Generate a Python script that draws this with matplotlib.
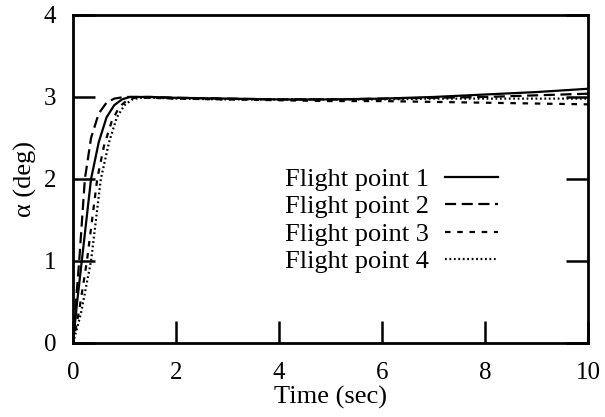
import matplotlib
matplotlib.use("Agg")
import matplotlib.pyplot as plt

# Flight point 1 (solid)
t1 = [0, 0.08, 0.17, 0.35, 0.5, 0.65, 0.8, 0.95, 1.1, 1.5, 2, 3, 4, 5, 6, 7, 8, 9, 10]
fp1 = [0, 0.5, 1.0, 2.0, 2.45, 2.75, 2.9, 2.97, 3.0, 3.0, 2.99, 2.98, 2.97, 2.97, 2.98, 3.0, 3.03, 3.06, 3.1]
# Flight point 2 (dashed)
t2 = [0, 0.05, 0.12, 0.23, 0.35, 0.5, 0.65, 0.8, 1.0, 1.5, 2, 3, 4, 5, 6, 7, 8, 9, 10]
fp2 = [0, 0.45, 1.0, 2.0, 2.5, 2.8, 2.93, 2.98, 3.0, 3.0, 2.99, 2.98, 2.97, 2.97, 2.98, 2.99, 3.0, 3.02, 3.04]
# Flight point 3 (short dashes)
t3 = [0, 0.12, 0.27, 0.47, 0.6, 0.75, 0.9, 1.05, 1.2, 1.5, 2, 3, 4, 5, 6, 7, 8, 9, 10]
fp3 = [0, 0.4, 1.0, 2.0, 2.4, 2.7, 2.88, 2.96, 2.99, 2.99, 2.98, 2.97, 2.96, 2.95, 2.95, 2.94, 2.93, 2.92, 2.91]
# Flight point 4 (dotted)
t4 = [0, 0.15, 0.35, 0.54, 0.7, 0.85, 1.0, 1.15, 1.3, 1.6, 2, 3, 4, 5, 6, 7, 8, 9, 10]
fp4 = [0, 0.35, 1.0, 2.0, 2.45, 2.75, 2.9, 2.97, 2.99, 2.99, 2.98, 2.97, 2.97, 2.97, 2.97, 2.98, 2.98, 2.98, 2.98]

labels = ["Flight point 1", "Flight point 2", "Flight point 3", "Flight point 4"]
xticks = [0, 2, 4, 6, 8, 10]
yticks = [0, 1, 2, 3, 4]

plt.rcParams['font.family'] = ['Liberation Serif', 'DejaVu Serif']
fig = plt.figure(figsize=(6.05, 4.17), dpi=100)
ax = fig.add_axes([0.1207, 0.1775, 0.8512, 0.7866])

styles = ['-', (0, (5, 2.5)), (0, (2.5, 3)), (0, (0.8, 1.2))]
for tt, y, lab, ls in zip([t1, t2, t3, t4], [fp1, fp2, fp3, fp4], labels, styles):
    ax.plot(tt, y, color='black', lw=1.6, label=lab, linestyle=ls)

ax.set_xlim(0, 10)
ax.set_ylim(0, 4)
ax.set_xticks(xticks)
ax.set_yticks(yticks)
ax.tick_params(direction='in', length=16, width=1.8, labelsize=18, top=False, right=True)
ax.tick_params(axis='x', pad=14)
ax.tick_params(axis='y', pad=12)
for s in ax.spines.values():
    s.set_linewidth(2)
ax.set_xlabel("Time (sec)", fontsize=19, labelpad=1)
ax.set_ylabel("α (deg)", fontsize=19, labelpad=5)
ax.legend(loc='upper right', bbox_to_anchor=(0.825, 0.535), frameon=False, markerfirst=False,
          fontsize=19, handlelength=2.0, labelspacing=0.15, handletextpad=0.6, borderpad=0,
          borderaxespad=0)
fig.savefig("out.png", dpi=100)
